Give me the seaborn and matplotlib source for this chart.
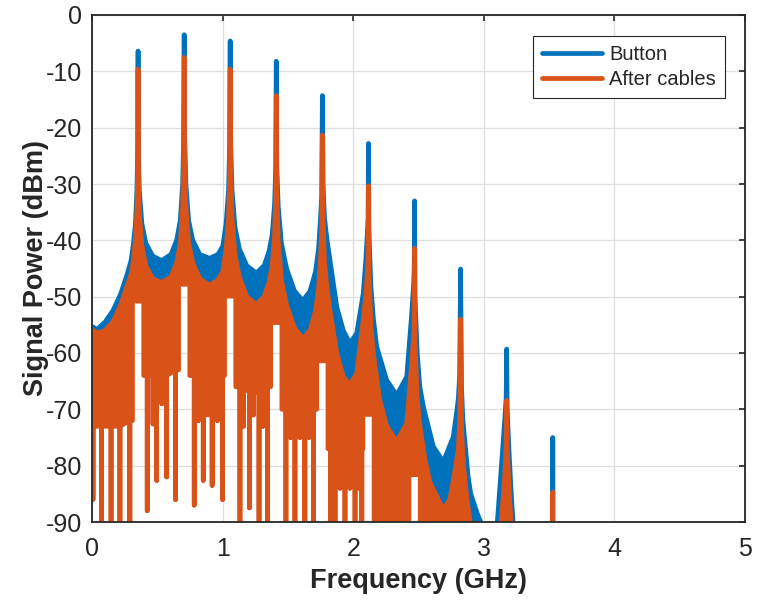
import matplotlib
matplotlib.use("Agg")
import matplotlib.pyplot as plt
import numpy as np
import seaborn as sns

# upper edge of each spectrum (GHz, dBm)
BUTTON_ENVELOPE = [
    (0.000, -55.3), (0.040, -55.8), (0.100, -54.5), (0.160, -52.5), (0.220, -49.5),
    (0.270, -46.0), (0.300, -43.5), (0.318, -40.5), (0.333, -37.0), (0.344, -31.0),
    (0.350, -24.0), (0.353, -6.4), (0.356, -24.0), (0.362, -31.0), (0.382, -37.0),
    (0.412, -40.5), (0.465, -42.8), (0.533, -43.6),
    (0.605, -42.5), (0.648, -40.0), (0.676, -36.5), (0.694, -30.0), (0.702, -22.0),
    (0.706, -3.5), (0.710, -22.0), (0.719, -30.0), (0.740, -36.5), (0.772, -40.0),
    (0.825, -42.5), (0.900, -43.2),
    (0.965, -42.5), (1.002, -41.0), (1.027, -37.0), (1.046, -31.0), (1.054, -23.0),
    (1.058, -4.6), (1.062, -23.0), (1.072, -31.0), (1.094, -37.5), (1.128, -41.5),
    (1.185, -44.5), (1.258, -45.8),
    (1.318, -44.5), (1.355, -42.0), (1.380, -39.0), (1.398, -33.5), (1.407, -27.0),
    (1.411, -8.2), (1.415, -27.0), (1.426, -34.0), (1.450, -40.5), (1.490, -45.0),
    (1.550, -49.0), (1.615, -50.7),
    (1.670, -49.0), (1.712, -45.5), (1.735, -41.5), (1.750, -36.0), (1.759, -32.0),
    (1.764, -14.3), (1.769, -30.0), (1.780, -36.0), (1.800, -40.0), (1.822, -43.5),
    (1.874, -51.8), (1.924, -56.0), (1.975, -58.3),
    (2.027, -56.5), (2.077, -49.4), (2.095, -44.0), (2.108, -39.0), (2.114, -36.0),
    (2.117, -22.8), (2.120, -38.0), (2.135, -48.0), (2.155, -54.0), (2.180, -58.9),
    (2.256, -64.8), (2.333, -67.5),
    (2.410, -64.2), (2.448, -53.0), (2.462, -48.0), (2.467, -45.0), (2.470, -33.0),
    (2.473, -50.0), (2.490, -60.0), (2.510, -66.0), (2.537, -69.5), (2.613, -76.6),
    (2.690, -79.3),
    (2.766, -74.9), (2.795, -70.0), (2.805, -68.0), (2.815, -64.0), (2.822, -45.1),
    (2.829, -66.0), (2.840, -72.0), (2.860, -77.0), (2.880, -82.0), (2.900, -85.0),
    (2.950, -88.5), (2.985, -90.5), (2.992, -95.0),
    (3.095, -95.0), (3.102, -90.5), (3.135, -80.0), (3.160, -72.0), (3.171, -68.0),
    (3.175, -59.3), (3.179, -70.0), (3.192, -77.0), (3.210, -85.0), (3.225, -90.5),
    (3.232, -95.0),
    (3.527, -95.0), (3.528, -75.0), (3.529, -95.0), (5.000, -95.0),
]

CABLES_ENVELOPE = [
    (0.000, -55.8), (0.040, -56.5), (0.100, -56.0), (0.160, -54.5), (0.220, -51.5),
    (0.270, -48.0), (0.300, -46.0), (0.318, -43.5), (0.333, -40.0), (0.344, -35.0),
    (0.350, -28.0), (0.353, -9.6), (0.356, -28.0), (0.362, -35.0), (0.382, -41.0),
    (0.412, -44.5), (0.465, -46.8), (0.533, -47.5),
    (0.605, -46.5), (0.648, -44.0), (0.676, -40.5), (0.694, -34.0), (0.702, -26.0),
    (0.706, -7.5), (0.710, -26.0), (0.719, -34.0), (0.740, -40.5), (0.772, -44.0),
    (0.825, -46.8), (0.900, -48.0),
    (0.965, -47.0), (1.002, -45.5), (1.027, -41.5), (1.046, -36.0), (1.054, -28.0),
    (1.058, -9.6), (1.062, -28.0), (1.072, -36.0), (1.094, -42.5), (1.128, -46.5),
    (1.185, -50.0), (1.258, -51.4),
    (1.318, -50.0), (1.355, -47.5), (1.380, -44.5), (1.398, -39.0), (1.407, -32.0),
    (1.411, -14.3), (1.415, -32.0), (1.426, -40.0), (1.450, -47.0), (1.490, -51.5),
    (1.550, -55.5), (1.615, -57.5),
    (1.670, -56.0), (1.712, -52.5), (1.735, -48.5), (1.750, -43.0), (1.759, -38.0),
    (1.764, -21.3), (1.769, -36.0), (1.780, -44.0), (1.800, -48.5), (1.822, -52.4),
    (1.874, -60.0), (1.924, -64.2), (1.975, -65.7),
    (2.027, -63.6), (2.077, -54.0), (2.095, -50.0), (2.108, -46.0), (2.114, -43.0),
    (2.117, -30.3), (2.120, -45.0), (2.135, -55.0), (2.154, -60.0), (2.200, -68.0),
    (2.256, -73.0), (2.333, -75.7),
    (2.410, -72.5), (2.448, -61.8), (2.462, -57.0), (2.467, -55.0), (2.470, -41.4),
    (2.473, -58.0), (2.490, -68.0), (2.511, -73.0), (2.550, -79.0), (2.588, -83.0),
    (2.690, -87.8),
    (2.740, -86.0), (2.780, -80.8), (2.805, -77.0), (2.815, -72.0), (2.822, -54.0),
    (2.830, -74.0), (2.845, -80.0), (2.870, -86.0), (2.900, -90.5), (2.907, -95.0),
    (3.125, -95.0), (3.132, -90.5), (3.160, -82.0), (3.171, -76.0), (3.175, -68.4),
    (3.179, -77.0), (3.195, -85.0), (3.210, -90.5), (3.217, -95.0),
    (3.527, -95.0), (3.528, -84.7), (3.529, -95.0), (5.000, -95.0),
]

# lower edge of the dense ripple, with the deep nulls (GHz, dBm)
RIPPLE_FLOOR = [
    (0.000, -73.0), (0.008, -73.0), (0.008, -86.0), (0.008, -73.0),
    (0.074, -73.0), (0.074, -90.5), (0.074, -73.0), (0.146, -73.0), (0.146, -90.5),
    (0.146, -73.0), (0.214, -73.0), (0.214, -90.5), (0.214, -73.0), (0.290, -72.0),
    (0.290, -90.5), (0.290, -72.0), (0.310, -72.0), (0.310, -50.8), (0.396, -50.8),
    (0.396, -64.0), (0.423, -64.0), (0.423, -88.0), (0.423, -64.0), (0.467, -64.0),
    (0.467, -72.6), (0.467, -64.0), (0.495, -64.0), (0.495, -82.6), (0.495, -64.0),
    (0.535, -64.0), (0.535, -69.0), (0.535, -64.0), (0.572, -64.0), (0.572, -82.0),
    (0.572, -64.0), (0.640, -63.0), (0.640, -86.0), (0.640, -63.0), (0.663, -63.0),
    (0.663, -47.8), (0.749, -47.8), (0.749, -64.0), (0.783, -64.0), (0.783, -87.0),
    (0.783, -64.0), (0.815, -64.0), (0.815, -72.0), (0.815, -64.0), (0.852, -65.0),
    (0.852, -82.6), (0.852, -65.0), (0.888, -65.0), (0.888, -71.0), (0.888, -65.0),
    (0.920, -65.0), (0.920, -83.5), (0.920, -65.0), (0.960, -65.0), (0.960, -72.0),
    (0.960, -65.0), (1.000, -64.0), (1.000, -86.0), (1.000, -64.0), (1.015, -64.0),
    (1.015, -49.9), (1.101, -49.9), (1.101, -66.0), (1.133, -66.0), (1.133, -90.5),
    (1.133, -66.0), (1.160, -66.0), (1.160, -73.0), (1.160, -66.0), (1.205, -67.0),
    (1.205, -87.5), (1.205, -67.0), (1.235, -67.0), (1.235, -71.0), (1.235, -67.0),
    (1.279, -67.0), (1.279, -90.5), (1.279, -67.0), (1.310, -67.0), (1.310, -73.0),
    (1.310, -67.0), (1.345, -66.0), (1.345, -90.5), (1.345, -66.0), (1.368, -66.0),
    (1.368, -54.6), (1.454, -54.6), (1.454, -70.0), (1.485, -70.0), (1.485, -90.5),
    (1.485, -70.0), (1.520, -70.0), (1.520, -75.0), (1.520, -70.0), (1.554, -70.0),
    (1.554, -90.5), (1.554, -70.0), (1.592, -70.0), (1.592, -75.0), (1.592, -70.0),
    (1.630, -70.0), (1.630, -90.5), (1.630, -70.0), (1.662, -70.0), (1.662, -75.0),
    (1.662, -70.0), (1.695, -70.0), (1.695, -90.5), (1.695, -70.0), (1.721, -70.0),
    (1.721, -61.4), (1.807, -61.4), (1.807, -77.0), (1.828, -77.0), (1.828, -90.5),
    (1.828, -77.0), (1.861, -77.0), (1.861, -90.5), (1.861, -77.0), (1.900, -77.0),
    (1.900, -84.0), (1.900, -77.0), (1.937, -77.0), (1.937, -90.5), (1.937, -77.0),
    (1.975, -77.0), (1.975, -84.0), (1.975, -77.0), (2.014, -77.0), (2.014, -90.5),
    (2.014, -77.0), (2.045, -77.0), (2.045, -84.0), (2.045, -77.0), (2.066, -77.0),
    (2.066, -90.5), (2.066, -77.0), (2.074, -77.0), (2.074, -70.9), (2.160, -70.9),
    (2.160, -92.0), (2.427, -92.0), (2.427, -81.6), (2.513, -81.6), (2.513, -92.0),
    (5.000, -92.0),
]

SERIES_LABELS = ["Button", "After cables"]
SERIES_COLORS = ["#0072BD", "#D95319"]
X_TICKS = [0, 1, 2, 3, 4, 5]
Y_TICKS = [-90, -80, -70, -60, -50, -40, -30, -20, -10, 0]


def setup_style() -> None:
    sns.set_theme(style="white")
    plt.rcParams.update(
        {
            "font.family": ["Liberation Sans", "DejaVu Sans"],
            "axes.unicode_minus": False,
            "axes.edgecolor": "#262626",
            "axes.linewidth": 1.3,
            "xtick.color": "#262626",
            "ytick.color": "#262626",
            "xtick.direction": "in",
            "ytick.direction": "in",
            "xtick.top": True,
            "ytick.right": True,
            "xtick.major.size": 4.5,
            "ytick.major.size": 4.5,
            "xtick.major.width": 1.2,
            "ytick.major.width": 1.2,
        }
    )


def draw_trace(axis, envelope, floor, color, label, stroke_floor):
    env_f, env_db = (np.array(v) for v in zip(*envelope))
    floor_f, floor_db = (np.array(v) for v in zip(*floor))
    axis.fill(
        np.concatenate([env_f, floor_f[::-1]]),
        np.concatenate([env_db, floor_db[::-1]]),
        color=color,
        linewidth=0,
        zorder=2,
    )
    style = dict(
        color=color,
        linewidth=3.4,
        sort=False,
        estimator=None,
        solid_joinstyle="round",
        solid_capstyle="round",
        ax=axis,
        zorder=2,
    )
    sns.lineplot(x=env_f, y=env_db, **style)
    handle = axis.lines[-1]
    handle.set_label(label)
    if stroke_floor:
        sns.lineplot(x=floor_f, y=floor_db, **style)
    return handle


def main() -> None:
    setup_style()
    figure = plt.figure(figsize=(7.57, 6.0), dpi=100)
    axis = figure.add_axes([0.1215, 0.13, 0.8627, 0.845])
    axis.set_axisbelow(True)
    axis.grid(True, color="#DEDEDE", linewidth=0.9)

    handles = [
        draw_trace(axis, BUTTON_ENVELOPE, RIPPLE_FLOOR, SERIES_COLORS[0],
                   SERIES_LABELS[0], stroke_floor=False),
        draw_trace(axis, CABLES_ENVELOPE, RIPPLE_FLOOR, SERIES_COLORS[1],
                   SERIES_LABELS[1], stroke_floor=True),
    ]

    axis.set_xlim(0, 5)
    axis.set_ylim(-90, 0)
    axis.set_xticks(X_TICKS)
    axis.set_yticks(Y_TICKS)
    axis.set_xticklabels([str(t) for t in X_TICKS])
    axis.set_yticklabels([str(t) for t in Y_TICKS])
    axis.tick_params(axis="x", labelsize=18, pad=10.5)
    axis.tick_params(axis="y", labelsize=18, pad=7)
    for spine in axis.spines.values():
        spine.set_visible(True)
    axis.set_xlabel("Frequency (GHz)", fontsize=19.5, fontweight="bold", labelpad=5)
    axis.set_ylabel("Signal Power (dBm)", fontsize=19.5, fontweight="bold", labelpad=-2)

    legend = axis.legend(
        handles=handles,
        labels=SERIES_LABELS,
        loc="upper right",
        bbox_to_anchor=(0.9694, 0.9586),
        borderaxespad=0,
        frameon=True,
        fancybox=False,
        edgecolor="#262626",
        framealpha=1,
        fontsize=14.5,
        handlelength=3.0,
        handletextpad=0.35,
        borderpad=0.45,
        labelspacing=0.3,
    )
    legend.get_frame().set_linewidth(0.8)

    figure.savefig("out.png", dpi=100, facecolor="white")
    plt.close(figure)


if __name__ == "__main__":
    main()
